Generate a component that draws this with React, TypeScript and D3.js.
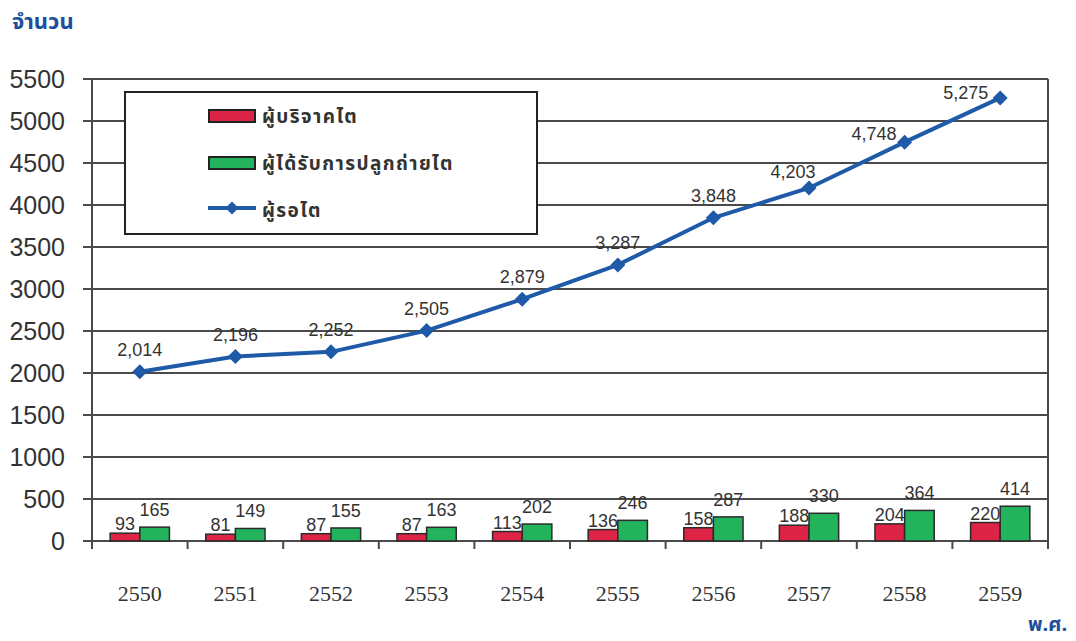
import * as d3 from "d3";

// ปี พ.ศ.
const years = ["2550", "2551", "2552", "2553", "2554", "2555", "2556", "2557", "2558", "2559"];
// ผู้บริจาคไต
const donors = [93, 81, 87, 87, 113, 136, 158, 188, 204, 220];
// ผู้ได้รับการปลูกถ่ายไต
const recipients = [165, 149, 155, 163, 202, 246, 287, 330, 364, 414];
// ผู้รอไต
const waiting = [2014, 2196, 2252, 2505, 2879, 3287, 3848, 4203, 4748, 5275];
const yTicks = [0, 500, 1000, 1500, 2000, 2500, 3000, 3500, 4000, 4500, 5000, 5500];
const seriesNames = ["ผู้บริจาคไต", "ผู้ได้รับการปลูกถ่ายไต", "ผู้รอไต"];

const W = 1076;
const H = 641;
const left = 92;
const right = 1048;
const top = 79;
const bottom = 541;

const RED = "#dd2447";
const GREEN = "#22b35c";
const BLUE = "#1f5aa8";
const GRID = "#4a4a4a";
const sans = "'Liberation Sans', Arial, sans-serif";
const thai = "'Noto Sans Thai', 'Loma', 'Garuda', 'Norasi', 'DejaVu Sans', sans-serif";

export default function App() {
  const x = d3.scaleBand().domain(years).range([left, right]);
  const y = d3.scaleLinear().domain([0, 5500]).range([bottom, top]);
  const bw = x.bandwidth() * 0.31;
  const cx = (d: string) => (x(d) as number) + x.bandwidth() / 2;

  const line = d3
    .line<number>()
    .x((_, i) => cx(years[i]))
    .y((d) => y(d));

  const fmt = d3.format(",");

  // where the line labels sit relative to their point
  const labelPos = (i: number) => {
    if (i === 9) return { dx: -12, dy: 1, anchor: "end" };
    if (i === 8) return { dx: -8, dy: -2, anchor: "end" };
    if (i === 7) return { dx: -16, dy: -10, anchor: "middle" };
    return { dx: 0, dy: -16, anchor: "middle" };
  };

  const diamond = (px: number, py: number, r: number) =>
    `M${px},${py - r}L${px + r},${py}L${px},${py + r}L${px - r},${py}Z`;

  return (
    <svg
      width={W}
      height={H}
      style={{ position: "absolute", left: 0, top: 0, background: "#fff" }}
    >
      <text x={12} y={29} fill="#1b4f9c" fontSize={22} fontWeight="bold" fontFamily={thai}>
        จำนวน
      </text>

      {/* grid + y axis */}
      {yTicks.map((t) => (
        <g key={t}>
          <line x1={83} x2={right} y1={y(t)} y2={y(t)} stroke={GRID} strokeWidth={2} />
          <text
            x={65}
            y={y(t) + 9}
            textAnchor="end"
            fontSize={25}
            fontFamily={sans}
            fill="#333"
          >
            {t}
          </text>
        </g>
      ))}
      <line x1={left} x2={left} y1={top} y2={bottom + 8} stroke={GRID} strokeWidth={2} />
      <line x1={right} x2={right} y1={top} y2={bottom + 8} stroke={GRID} strokeWidth={2} />

      {/* x ticks */}
      {years.map((d) => (
        <line
          key={"t" + d}
          x1={x(d) as number}
          x2={x(d) as number}
          y1={bottom}
          y2={bottom + 8}
          stroke={GRID}
          strokeWidth={2}
        />
      ))}
      {years.map((d) => (
        <text
          key={"l" + d}
          x={cx(d)}
          y={601}
          textAnchor="middle"
          fontSize={22}
          fontFamily="'Liberation Serif', 'Times New Roman', serif"
          fill="#333"
        >
          {d}
        </text>
      ))}

      {/* bars */}
      {years.map((d, i) => (
        <g key={"b" + d}>
          <rect
            x={cx(d) - bw}
            y={y(donors[i])}
            width={bw}
            height={bottom - y(donors[i])}
            fill={RED}
            stroke="#2a2a2a"
            strokeWidth={1.5}
          />
          <rect
            x={cx(d)}
            y={y(recipients[i])}
            width={bw}
            height={bottom - y(recipients[i])}
            fill={GREEN}
            stroke="#2a2a2a"
            strokeWidth={1.5}
          />
          <text
            x={cx(d) - bw / 2}
            y={y(donors[i]) - 3}
            textAnchor="middle"
            fontSize={18}
            fontFamily={sans}
            fill="#333"
          >
            {donors[i]}
          </text>
          <text
            x={cx(d) + bw / 2}
            y={y(recipients[i]) - 11}
            textAnchor="middle"
            fontSize={18}
            fontFamily={sans}
            fill="#333"
          >
            {recipients[i]}
          </text>
        </g>
      ))}

      {/* waiting line */}
      <path d={line(waiting) || ""} fill="none" stroke={BLUE} strokeWidth={4} />
      {waiting.map((v, i) => {
        const px = cx(years[i]);
        const py = y(v);
        const p = labelPos(i);
        return (
          <g key={"p" + i}>
            <path d={diamond(px, py, 7.5)} fill={BLUE} />
            <text
              x={px + p.dx}
              y={py + p.dy}
              textAnchor={p.anchor as any}
              fontSize={18}
              fontFamily={sans}
              fill="#333"
            >
              {fmt(v)}
            </text>
          </g>
        );
      })}

      {/* legend */}
      <rect x={125} y={92} width={412} height={142} fill="#fff" stroke="#222" strokeWidth={2} />
      <rect x={209} y={110} width={46} height={12} fill={RED} stroke="#222" strokeWidth={2} />
      <rect x={209} y={157} width={46} height={12} fill={GREEN} stroke="#222" strokeWidth={2} />
      <line x1={208} x2={256} y1={208} y2={208} stroke={BLUE} strokeWidth={4} />
      <path d={diamond(232, 208, 6.5)} fill={BLUE} />
      {seriesNames.map((n, i) => (
        <text
          key={n}
          x={262}
          y={123 + i * 47}
          fontSize={19}
          letterSpacing={1.4}
          fontWeight="bold"
          fontFamily={thai}
          fill="#333"
        >
          {n}
        </text>
      ))}

      <text x={1028} y={631} fill="#1b4f9c" fontSize={20} fontWeight="bold" fontFamily={thai}>
        พ.ศ.
      </text>
    </svg>
  );
}
